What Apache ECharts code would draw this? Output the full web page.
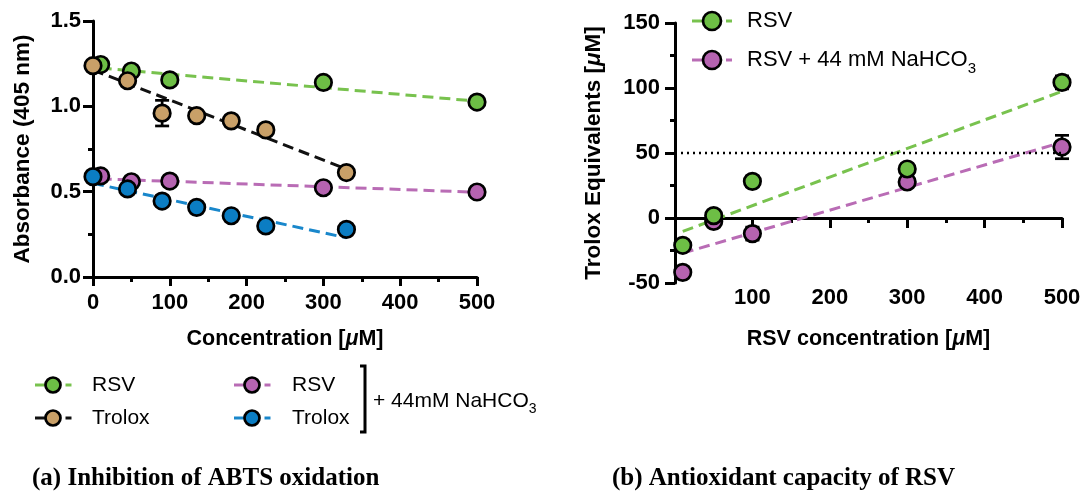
<!DOCTYPE html>
<html><head><meta charset="utf-8">
<script src="https://cdn.jsdelivr.net/npm/echarts@6/dist/echarts.min.js"></script>
<style>html,body{margin:0;padding:0;background:#fff}#c{width:1091px;height:494px}</style>
</head><body><div id="c"></div>
<script>
// ---------- Panel (a): Absorbance vs concentration ----------
const rsvConcA = [10, 50, 100, 300, 500];
const rsvAbs = [1.245, 1.207, 1.155, 1.14, 1.025];
const rsvBicAbs = [0.592, 0.558, 0.562, 0.523, 0.498];
const troloxConc = [0, 45, 90, 135, 180, 225, 330];
const troloxAbs = [1.238, 1.15, 0.96, 0.945, 0.915, 0.862, 0.612];
const troloxErr = [0, 0, 0.075, 0, 0, 0, 0];
const troloxBicAbs = [0.588, 0.516, 0.445, 0.408, 0.359, 0.299, 0.279];
// fitted lines (end points)
const rsvFitX = [10, 500], rsvFitY = [1.225, 1.03];
const troloxFitX = [0, 330], troloxFitY = [1.213, 0.632];
const rsvBicFitX = [10, 500], rsvBicFitY = [0.575, 0.497];
const troloxBicFitX = [0, 330], troloxBicFitY = [0.549, 0.23];

// ---------- Panel (b): Trolox equivalents ----------
const rsvConcB = [10, 50, 100, 300, 500];
const rsvTE = [-21, 1.8, 28.2, 37.7, 104.3];
const rsvTEerr = [0, 0, 4, 0, 5];
const rsvBicTE = [-41.8, -2.6, -12, 27.7, 54.6];
const rsvBicTEerr = [0, 1, 5, 0, 9];
const rsvTEFitX = [10, 500], rsvTEFitY = [-10.3, 97.4];
const rsvBicTEFitX = [10, 500], rsvBicTEFitY = [-27, 58.2];
const threshold = 50;

const COL = {green:'#6DBE45', tan:'#C9A068', purple:'#B563B0', blue:'#0B7DC3'};
const LCOL = {green:'#78C24E', black:'#111111', purple:'#B96CB5', blue:'#1987CB'};
const FONT = "'Liberation Sans', Arial, Helvetica, sans-serif";

const zip = (a, b) => a.map((v, i) => [v, b[i]]);

function fitSeries(xs, ys, color, xi, yi) {
  return {type:'line', xAxisIndex:xi, yAxisIndex:yi, data:zip(xs, ys), symbol:'none', z:2,
    lineStyle:{color, width:3, type:[11,6]}, silent:true};
}
function scatterSeries(xs, ys, color, xi, yi, z) {
  return {type:'scatter', xAxisIndex:xi, yAxisIndex:yi, data:zip(xs, ys), symbol:'circle', symbolSize:16.5, z,
    itemStyle:{color, borderColor:'#000', borderWidth:2.7, opacity:1}};
}
function errSeries(xs, ys, errs, xi, yi) {
  const data = [];
  xs.forEach((x, i) => { if (errs[i] > 0) data.push([x, ys[i] - errs[i], ys[i] + errs[i]]); });
  return {type:'custom', xAxisIndex:xi, yAxisIndex:yi, data, z:3, encode:{x:0, y:[1,2]},
    renderItem(params, api) {
      const x = api.value(0), lo = api.value(1), hi = api.value(2);
      const a = api.coord([x, lo]), b = api.coord([x, hi]);
      const w = 7, st = {stroke:'#000', lineWidth:2.7};
      return {type:'group', children:[
        {type:'line', shape:{x1:a[0], y1:a[1], x2:b[0], y2:b[1]}, style:st},
        {type:'line', shape:{x1:a[0]-w, y1:a[1], x2:a[0]+w, y2:a[1]}, style:st},
        {type:'line', shape:{x1:b[0]-w, y1:b[1], x2:b[0]+w, y2:b[1]}, style:st}
      ]};
    }};
}

const axisLineStyle = {color:'#000', width:3};
const labelStyle = {color:'#000', fontFamily:FONT, fontWeight:'bold', fontSize:22};
function nameStyle(fs) {
  return {color:'#000', fontFamily:FONT, fontWeight:'bold', fontSize:fs,
    rich:{i:{fontStyle:'italic', fontWeight:'bold', fontSize:fs, fontFamily:FONT, color:'#000'}}};
}

function legendItem(x, y, color, lineColor, r, label, fontSize, lineL, textDx) {
  return [
    {type:'line', shape:{x1:x-lineL, y1:y, x2:x-r, y2:y}, style:{stroke:lineColor, lineWidth:3}},
    {type:'line', shape:{x1:x+r+5, y1:y, x2:x+r+11, y2:y}, style:{stroke:lineColor, lineWidth:3}},
    {type:'circle', shape:{cx:x, cy:y, r:r}, style:{fill:color, stroke:'#000', lineWidth:2.7}, z:10},
    {type:'text', x:x+textDx, y:y, style:{text:label, fontFamily:FONT, fontSize, fill:'#000', verticalAlign:'middle',
      rich:{s:{fontSize:Math.round(fontSize*0.68), fontFamily:FONT, fill:'#000', padding:[Math.round(fontSize*0.8),0,0,0]}}}}
  ];
}

const option = {
  animation:false,
  backgroundColor:'#fff',
  title:[
    {text:'(a) Inhibition of ABTS oxidation', left:32, top:466, padding:0,
     textStyle:{fontFamily:"'Liberation Serif', 'Times New Roman', serif", fontWeight:'bold', fontSize:25, color:'#000'}},
    {text:'(b) Antioxidant capacity of RSV', left:612, top:466, padding:0,
     textStyle:{fontFamily:"'Liberation Serif', 'Times New Roman', serif", fontWeight:'bold', fontSize:25, color:'#000'}}
  ],
  grid:[
    {left:93, top:21, width:384, height:256, containLabel:false},
    {left:675, top:23, width:387, height:260, containLabel:false}
  ],
  xAxis:[
    {gridIndex:0, type:'value', min:0, max:500, interval:100,
     axisLine:{onZero:false, lineStyle:axisLineStyle},
     axisTick:{length:9, lineStyle:{width:3, color:'#000'}},
     minorTick:{show:true, splitNumber:2, length:5, lineStyle:{width:3, color:'#000'}},
     splitLine:{show:false},
     axisLabel:{...labelStyle, margin:15},
     name:'Concentration [{i|μ}M]', nameLocation:'middle', nameGap:51, nameTextStyle:nameStyle(21.5)},
    {gridIndex:1, type:'value', min:0, max:500, interval:100, position:'bottom',
     axisLine:{onZero:true, onZeroAxisIndex:1, lineStyle:axisLineStyle},
     axisTick:{length:10, lineStyle:{width:3, color:'#000'}},
     minorTick:{show:true, splitNumber:2, length:5, lineStyle:{width:3, color:'#000'}},
     splitLine:{show:false}, axisLabel:{show:false}},
    {gridIndex:1, type:'value', min:0, max:500, interval:100, position:'bottom',
     axisLine:{show:false, onZero:false}, axisTick:{show:false}, splitLine:{show:false},
     axisLabel:{...labelStyle, margin:4, formatter:v => v === 0 ? '' : String(v)},
     name:'RSV concentration [{i|μ}M]', nameLocation:'middle', nameGap:45, nameTextStyle:nameStyle(21.5)}
  ],
  yAxis:[
    {gridIndex:0, type:'value', min:0, max:1.5, interval:0.5,
     axisLine:{show:true, onZero:false, lineStyle:axisLineStyle},
     axisTick:{show:true, length:10, lineStyle:{width:3, color:'#000'}},
     minorTick:{show:true, splitNumber:2, length:5, lineStyle:{width:3, color:'#000'}},
     splitLine:{show:false},
     axisLabel:{...labelStyle, margin:12, formatter:v => v.toFixed(1)},
     name:'Absorbance (405 nm)', nameLocation:'middle', nameGap:59, nameTextStyle:nameStyle(22.5)},
    {gridIndex:1, type:'value', min:-50, max:150, interval:50,
     axisLine:{show:true, onZero:false, lineStyle:axisLineStyle},
     axisTick:{show:true, length:10, lineStyle:{width:3, color:'#000'}},
     minorTick:{show:true, splitNumber:2, length:5, lineStyle:{width:3, color:'#000'}},
     splitLine:{show:false},
     axisLabel:{...labelStyle, margin:15},
     name:'Trolox Equivalents [{i|μ}M]', nameLocation:'middle', nameGap:70, nameTextStyle:nameStyle(22.5)}
  ],
  series:[
    fitSeries(rsvFitX, rsvFitY, LCOL.green, 0, 0),
    fitSeries(troloxFitX, troloxFitY, LCOL.black, 0, 0),
    fitSeries(rsvBicFitX, rsvBicFitY, LCOL.purple, 0, 0),
    fitSeries(troloxBicFitX, troloxBicFitY, LCOL.blue, 0, 0),
    errSeries(troloxConc, troloxAbs, troloxErr, 0, 0),
    scatterSeries(rsvConcA, rsvAbs, COL.green, 0, 0, 4),
    scatterSeries(rsvConcA, rsvBicAbs, COL.purple, 0, 0, 4),
    scatterSeries(troloxConc, troloxAbs, COL.tan, 0, 0, 5),
    scatterSeries(troloxConc, troloxBicAbs, COL.blue, 0, 0, 5),

    Object.assign(fitSeries(rsvTEFitX, rsvTEFitY, LCOL.green, 1, 1), {
      markLine:{silent:true, symbol:['none','none'], label:{show:false},
        lineStyle:{color:'#000', width:2.4, type:[2,4]}, data:[{yAxis:threshold}]}}),
    fitSeries(rsvBicTEFitX, rsvBicTEFitY, LCOL.purple, 1, 1),
    errSeries(rsvConcB, rsvTE, rsvTEerr, 1, 1),
    errSeries(rsvConcB, rsvBicTE, rsvBicTEerr, 1, 1),
    scatterSeries(rsvConcB, rsvBicTE, COL.purple, 1, 1, 4),
    scatterSeries(rsvConcB, rsvTE, COL.green, 1, 1, 5)
  ],
  graphic:[
    ...legendItem(53, 385, COL.green, LCOL.green, 7.5, 'RSV', 21, 18, 39),
    ...legendItem(53, 418, COL.tan, LCOL.black, 7.5, 'Trolox', 21, 18, 39),
    ...legendItem(252, 385, COL.purple, LCOL.purple, 7.5, 'RSV', 21, 18, 40),
    ...legendItem(252, 418, COL.blue, LCOL.blue, 7.5, 'Trolox', 21, 18, 40),
    {type:'polyline', shape:{points:[[360,366],[365,366],[365,432],[360,432]]}, style:{stroke:'#000', lineWidth:3, fill:null}},
    {type:'text', x:373, y:401, style:{text:'+ 44mM NaHCO{s|3}', fontFamily:FONT, fontSize:21, fill:'#000', verticalAlign:'middle',
      rich:{s:{fontSize:14, fontFamily:FONT, fill:'#000', padding:[16,0,0,0]}}}},
    ...legendItem(712, 21, COL.green, LCOL.green, 9, 'RSV', 22, 20, 35),
    ...legendItem(712, 60, COL.purple, LCOL.purple, 9, 'RSV + 44 mM NaHCO{s|3}', 22, 20, 35)
  ]
};
const chart = echarts.init(document.getElementById('c'), null, {renderer:'canvas'});
chart.setOption(option);
</script>
</body></html>
